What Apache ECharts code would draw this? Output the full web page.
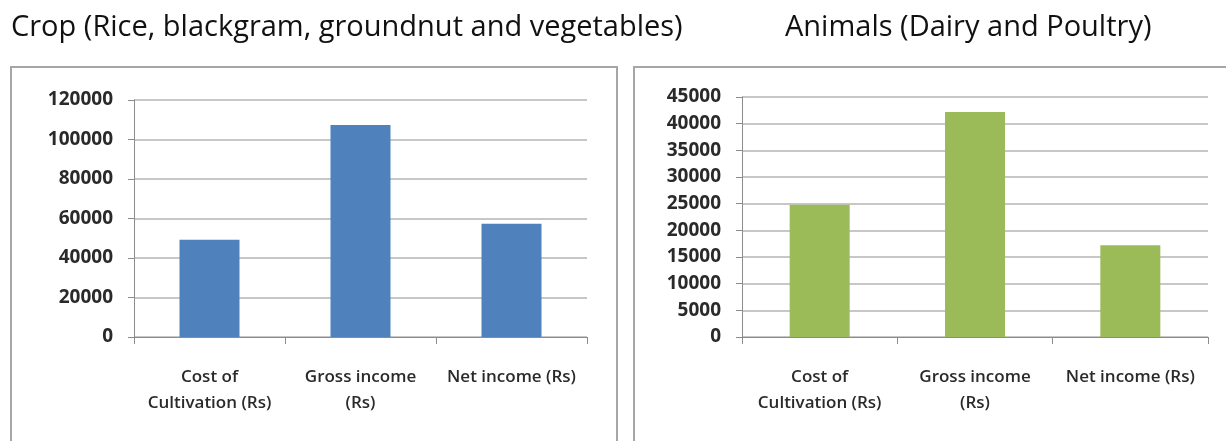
<!DOCTYPE html>
<html><head><meta charset="utf-8">
<script src="https://cdn.jsdelivr.net/npm/echarts@6/dist/echarts.min.js"></script>
<style>html,body{margin:0;padding:0;background:#fff}#c{width:1226px;height:441px}</style>
</head><body><div id="c"></div>
<script>
const categories = ['Cost of\nCultivation (Rs)', 'Gross income\n(Rs)', 'Net income (Rs)'];
const cropValues = [49300, 107400, 57400];
const animalValues = [24800, 42200, 17200];
const cropTitle = 'Crop (Rice, blackgram, groundnut and vegetables)';
const animalTitle = 'Animals (Dairy and Poultry)';
const cropTicks = {min: 0, max: 120000, interval: 20000};
const animalTicks = {min: 0, max: 45000, interval: 5000};

const FONT = '"Open Sans", "Liberation Sans", sans-serif';
const chart = echarts.init(document.getElementById('c'));
function yAxis(gi, t) {
  return {
    type: 'value', gridIndex: gi, min: t.min, max: t.max, interval: t.interval,
    axisLine: {show: true, lineStyle: {color: '#8c8c8c', width: 1}},
    axisTick: {show: true, length: 6, lineStyle: {color: '#8c8c8c'}},
    axisLabel: {color: '#2a2a2a', fontSize: 19, fontFamily: FONT, fontWeight: 'bold', margin: 21,
      formatter: v => String(v)},
    splitLine: {lineStyle: {color: '#b4b4b4', width: 1.5}}
  };
}
function xAxis(gi) {
  return {
    type: 'category', gridIndex: gi, data: categories,
    axisLine: {show: true, lineStyle: {color: '#8c8c8c', width: 1}},
    axisTick: {show: true, length: 7, lineStyle: {color: '#8c8c8c'}},
    axisLabel: {color: '#2a2a2a', fontSize: 17, fontFamily: FONT, fontWeight: 600, lineHeight: 26, margin: 27, interval: 0}
  };
}
chart.setOption({
  animation: false,
  title: [
    {text: cropTitle, left: 6, top: 8, textStyle: {fontFamily: FONT, fontSize: 29, fontWeight: 'normal', color: '#111'}},
    {text: animalTitle, left: 780, top: 8, textStyle: {fontFamily: FONT, fontSize: 29, fontWeight: 'normal', color: '#111'}}
  ],
  graphic: [
    {type: 'rect', shape: {x: 11, y: 67, width: 606, height: 400}, style: {fill: 'none', stroke: '#a6a6a6', lineWidth: 2}, z: -1},
    {type: 'rect', shape: {x: 634, y: 67, width: 620, height: 400}, style: {fill: 'none', stroke: '#a6a6a6', lineWidth: 2}, z: -1}
  ],
  grid: [
    {left: 134, right: 639, top: 100, bottom: 104},
    {left: 742, right: 18, top: 97, bottom: 104}
  ],
  xAxis: [xAxis(0), xAxis(1)],
  yAxis: [yAxis(0, cropTicks), yAxis(1, animalTicks)],
  series: [
    {type: 'bar', xAxisIndex: 0, yAxisIndex: 0, data: cropValues, barWidth: 60, itemStyle: {color: '#4f81bd'}},
    {type: 'bar', xAxisIndex: 1, yAxisIndex: 1, data: animalValues, barWidth: 60, itemStyle: {color: '#9bbb59'}}
  ]
});
</script></body></html>
